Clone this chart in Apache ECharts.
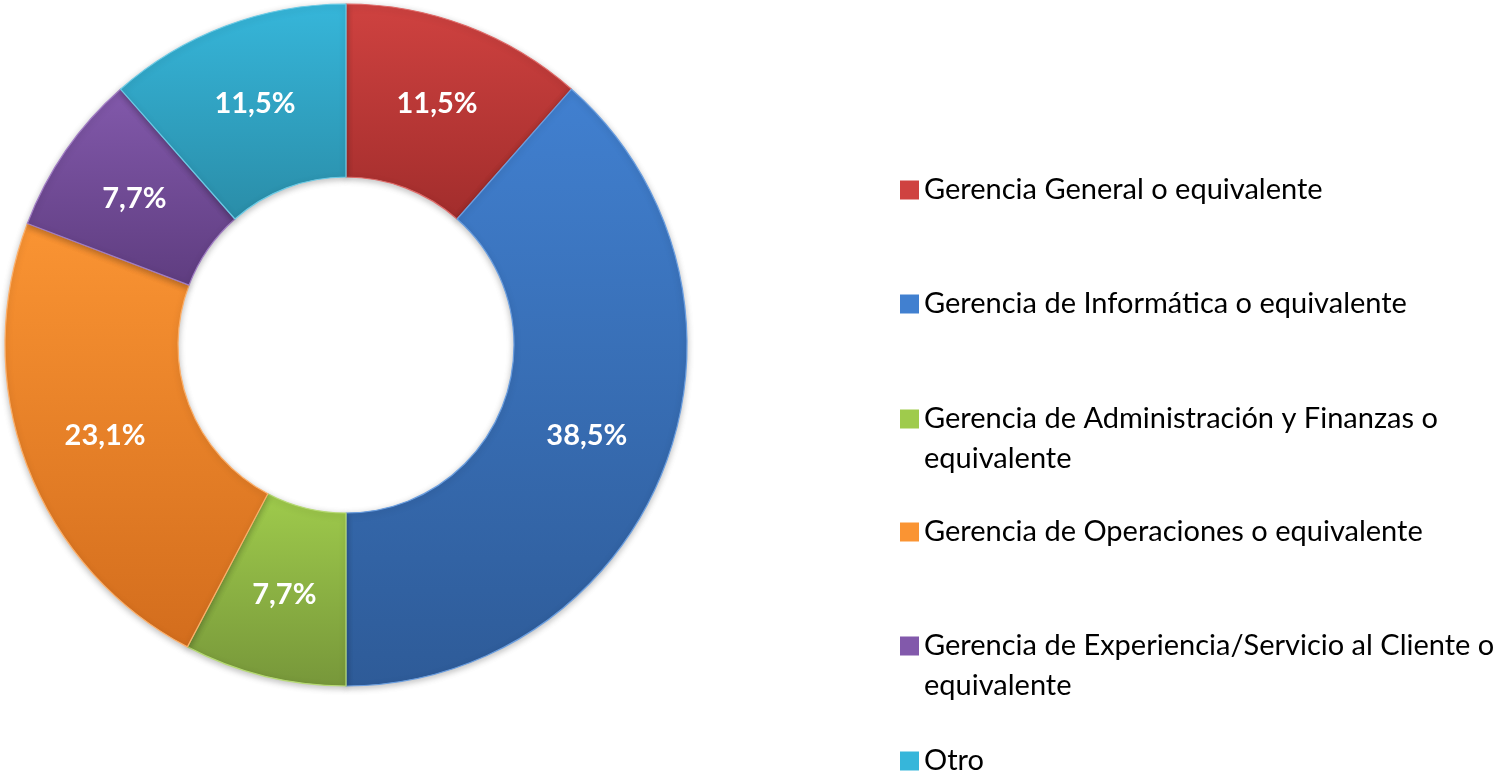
<!DOCTYPE html>
<html>
<head>
<meta charset="utf-8">
<title>Gerencias</title>
<script src="https://cdn.jsdelivr.net/npm/echarts@6/dist/echarts.min.js"></script>
<style>
  html, body { margin: 0; padding: 0; background: #fff; }
  #chart { width: 1505px; height: 774px; }
</style>
</head>
<body>
<div id="chart"></div>
<script>
// categories and shares (%)
const categories = [
  "Gerencia General o equivalente",
  "Gerencia de Informática o equivalente",
  "Gerencia de Administración y Finanzas o equivalente",
  "Gerencia de Operaciones o equivalente",
  "Gerencia de Experiencia/Servicio al Cliente o equivalente",
  "Otro"
];
const shares = [11.5, 38.5, 7.7, 23.1, 7.7, 11.5];

// top / bottom colour of each slice gradient, plus edge colour
const topColors = ["#cf4240", "#4180d0", "#9fcb4c", "#fa9433", "#8259ab", "#36b6da"];
const bottomColors = ["#a22d2c", "#2e5b98", "#77973a", "#d36d1d", "#5f3d80", "#2a8da8"];
const edgeColors = ["#e06a68", "#6a9ee0", "#b6da74", "#fdb06a", "#a07cc4", "#6ccbe6"];

// legend first-line centres (y), Excel spreads them evenly
const legendTops = [190, 304, 419, 532, 646, 761];

const font = "Lato, 'Open Sans', sans-serif";

function legendText(name) {
  // long names wrap before the last word, like the original
  return name.length > 40 ? name.replace(/ equivalente$/, "\nequivalente") : name;
}

const chart = echarts.init(document.getElementById("chart"), null, { renderer: "canvas" });

const legends = categories.map((name, i) => {
  const twoLines = legendText(name).indexOf("\n") >= 0;
  return {
    data: [{
      name: name,
      itemStyle: { color: topColors[i], borderWidth: 0 }
    }],
    orient: "vertical",
    left: 900,
    top: legendTops[i] - 20,
    padding: 0,
    itemWidth: 19,
    itemHeight: twoLines ? 80 : 40,
    symbolKeepAspect: false,
    // square centred on the first text line
    icon: twoLines ? "path://M0,0M0,10.5H19V29.5H0ZM0,80" : "path://M0,0M0,10.5H19V29.5H0ZM0,40",
    formatter: legendText,
    selectedMode: false,
    textStyle: { fontFamily: font, fontSize: 29, color: "#000", lineHeight: 40 }
  };
});

chart.setOption({
  backgroundColor: "#fff",
  animation: false,
  legend: legends,
  series: [{
    type: "pie",
    center: [346, 345],
    radius: [168, 341],
    startAngle: 90,
    clockwise: true,
    avoidLabelOverlap: false,
    label: {
      show: true,
      position: "inside",
      color: "#fff",
      fontFamily: font,
      fontWeight: "bold",
      fontSize: 29,
      formatter: p => p.value.toFixed(1).replace(".", ",") + "%"
    },
    labelLine: { show: false },
    emphasis: { disabled: true },
    data: categories.map((name, i) => ({
      name: name,
      value: shares[i],
      itemStyle: {
        color: new echarts.graphic.LinearGradient(0, 0, 0, 1, [
          { offset: 0, color: topColors[i] },
          { offset: 1, color: bottomColors[i] }
        ]),
        borderColor: edgeColors[i],
        borderWidth: 1.2,
        shadowBlur: 6,
        shadowOffsetY: 2,
        shadowColor: "rgba(0,0,0,0.25)"
      }
    }))
  }]
});
</script>
</body>
</html>
